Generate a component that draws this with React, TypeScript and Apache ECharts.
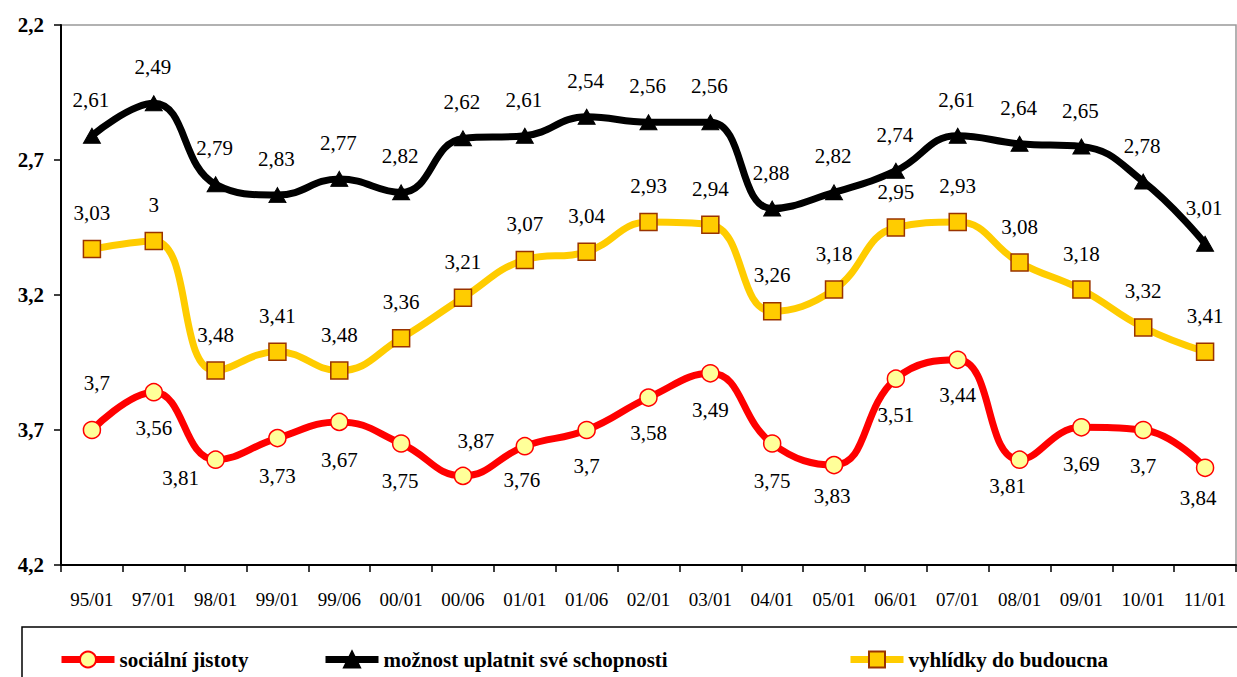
import React, { useEffect, useRef } from "react";
import * as echarts from "echarts";

const categories = [
  "95/01", "97/01", "98/01", "99/01", "99/06", "00/01", "00/06", "01/01", "01/06", "02/01",
  "03/01", "04/01", "05/01", "06/01", "07/01", "08/01", "09/01", "10/01", "11/01",
];

const socialniJistoty = [3.7, 3.56, 3.81, 3.73, 3.67, 3.75, 3.87, 3.76, 3.7, 3.58, 3.49, 3.75, 3.83, 3.51, 3.44, 3.81, 3.69, 3.7, 3.84];
const moznostUplatnit = [2.61, 2.49, 2.79, 2.83, 2.77, 2.82, 2.62, 2.61, 2.54, 2.56, 2.56, 2.88, 2.82, 2.74, 2.61, 2.64, 2.65, 2.78, 3.01];
const vyhlidky = [3.03, 3, 3.48, 3.41, 3.48, 3.36, 3.21, 3.07, 3.04, 2.93, 2.94, 3.26, 3.18, 2.95, 2.93, 3.08, 3.18, 3.32, 3.41];

const seriesNames = ["sociální jistoty", "možnost uplatnit své schopnosti", "vyhlídky do budoucna"];

const yTicks = { min: 2.2, max: 4.2, interval: 0.5 };

// label placement (layout only) for the red series, relative to the marker centre
const redLabelOffsets: [number, number][] = [
  [5, -47], [0, 36], [-35, 18], [0, 38], [0, 38], [-1, 37], [13, -35], [-3, 34], [0, 36], [0, 35],
  [0, 37], [0, 37], [-2, 31], [0, 36], [0, 35], [-12, 26], [0, 37], [0, 36], [-7, 30],
];
// legend item left positions (layout only)
const legendLefts = [53, 317, 842];

const FONT = "Liberation Serif, Times New Roman, serif";
const fmt = (v: number) => String(v).replace(".", ",");

export default function App() {
  const ref = useRef<HTMLDivElement>(null);
  useEffect(() => {
    document.body.style.margin = "0";
    if (!ref.current) return;
    const chart = echarts.init(ref.current, null, { renderer: "svg" });
    const labelBase = {
      show: true,
      position: "inside" as const,
      fontFamily: FONT,
      fontSize: 21,
      color: "#000",
      formatter: (p: any) => fmt(p.value),
    };
    chart.setOption({
      animation: false,
      backgroundColor: "#fff",
      textStyle: { fontFamily: FONT },
      grid: {
        left: 61,
        top: 25,
        right: 1,
        bottom: 112,
        show: true,
        borderColor: "#999",
        borderWidth: 1.5,
        outerBoundsMode: "none",
      },
      legend: seriesNames.map((name, i) => ({
        data: [name],
        left: legendLefts[i],
        top: 644,
        itemWidth: 53,
        itemHeight: 20,
        lineStyle: { width: 7 },
        textStyle: { fontFamily: FONT, fontSize: 21, fontWeight: "bold", color: "#000" },
      })),
      graphic: [
        {
          type: "rect",
          shape: { x: 22, y: 627, width: 1240, height: 70 },
          style: { fill: "none", stroke: "#000", lineWidth: 1.5 },
          z: 0,
        },
      ],
      xAxis: {
        type: "category",
        data: categories,
        boundaryGap: true,
        axisLine: { lineStyle: { color: "#000", width: 2 } },
        axisTick: { show: true, length: 7, lineStyle: { color: "#000", width: 1.5 } },
        axisLabel: { fontFamily: FONT, fontSize: 19, color: "#000", margin: 25, interval: 0 },
        splitLine: { show: false },
      },
      yAxis: {
        type: "value",
        inverse: true,
        min: yTicks.min,
        max: yTicks.max,
        interval: yTicks.interval,
        axisLine: { show: true, lineStyle: { color: "#000", width: 2 } },
        axisTick: { show: true, length: 7, lineStyle: { color: "#000", width: 1.5 } },
        axisLabel: {
          fontFamily: FONT,
          fontSize: 21,
          fontWeight: "bold",
          color: "#000",
          margin: 17,
          formatter: (v: number) => v.toFixed(1).replace(".", ","),
        },
        splitLine: { show: false },
      },
      series: [
        {
          name: seriesNames[0],
          type: "line",
          smooth: 0.45,
          data: socialniJistoty.map((v, i) => ({ value: v, label: { offset: redLabelOffsets[i] } })),
          symbol: "circle",
          symbolSize: 17,
          lineStyle: { color: "#FF0000", width: 7 },
          itemStyle: { color: "#FFFF99", borderColor: "#FF0000", borderWidth: 1.5 },
          label: labelBase,
          z: 3,
        },
        {
          name: seriesNames[1],
          type: "line",
          smooth: 0.45,
          data: moznostUplatnit,
          symbol: "triangle",
          symbolSize: [17, 15],
          lineStyle: { color: "#000", width: 7 },
          itemStyle: { color: "#000", borderColor: "#000", borderWidth: 1 },
          label: { ...labelBase, offset: [-1, -36] },
          z: 3,
        },
        {
          name: seriesNames[2],
          type: "line",
          smooth: 0.45,
          data: vyhlidky,
          symbol: "rect",
          symbolSize: 17,
          lineStyle: { color: "#FFCC00", width: 7 },
          itemStyle: { color: "#FFCC00", borderColor: "#993300", borderWidth: 1.5 },
          label: { ...labelBase, offset: [0, -36] },
          z: 3,
        },
      ],
    });
    return () => chart.dispose();
  }, []);
  return <div ref={ref} style={{ width: 1237, height: 677 }} />;
}
